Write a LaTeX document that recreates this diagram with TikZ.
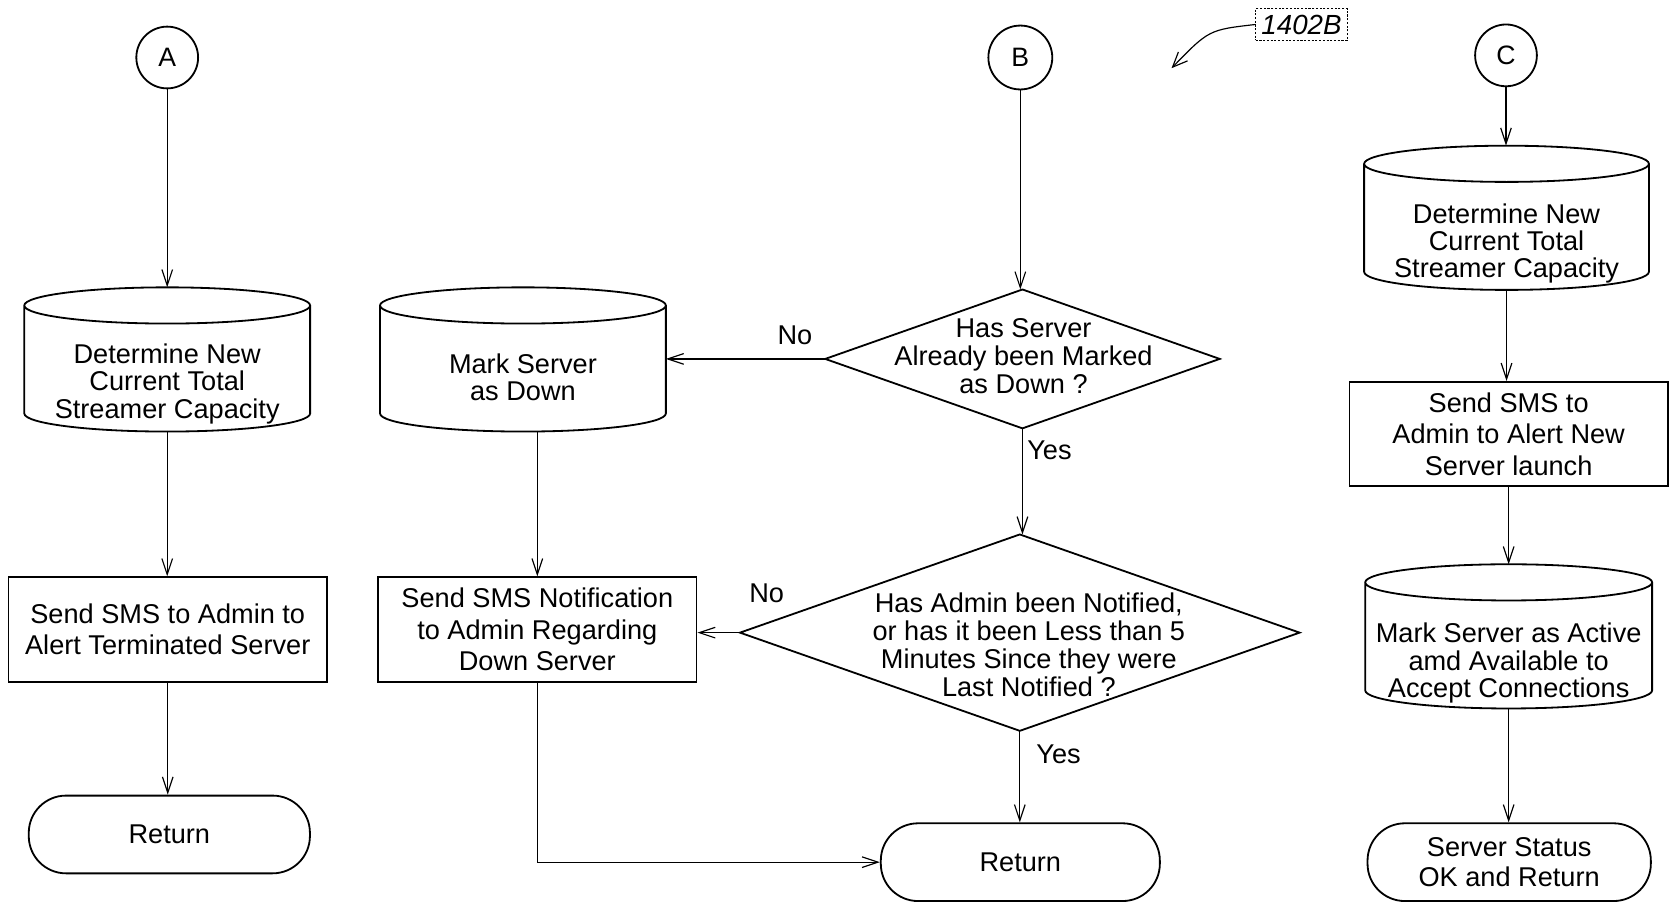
\documentclass[tikz,border=0pt]{standalone}
\usepackage{fontspec}
\setmainfont{Liberation Sans}
\usetikzlibrary{arrows.meta,calc,shapes.misc}
\newcommand\drawcyl[1]{%
  \draw[shp] let \p1=(#1.north west), \p2=(#1.south east), \p3=(#1.north), \n1={(\x2-\x1)/2} in
    (\x1,\y1+17pt) -- (\x1,\y2+17pt) arc[start angle=180,end angle=360,x radius=\n1,y radius=17pt] -- (\x2,\y1+17pt)
    (\x3,\y3+17pt) ellipse[x radius=\n1,y radius=17pt];
  \coordinate (#1-top) at ($(#1.north)+(0,34)$);
}
\newcommand\drawdiamond[1]{\draw[shp] (#1.north) -- (#1.east) -- (#1.south) -- (#1.west) -- cycle;}
\begin{document}
\begin{tikzpicture}[x=1pt,y=1pt,
  txt/.style={font=\fontsize{25.5}{26.5}\selectfont, align=center, inner sep=0pt},
  cyltxt/.style={font=\fontsize{25.5}{25.5}\selectfont, align=center, inner sep=0pt},
  conn/.style={line width=1.1pt, -{Straight Barb[length=15pt,width=10pt,line width=1.1pt]}},
  shp/.style={line width=1.7pt},
  circ/.style={shp, draw, circle, minimum size=58pt, inner sep=0pt, font=\fontsize{25}{26}\selectfont},
  procbox/.style={shp, draw, rectangle, minimum width=299pt, minimum height=98pt, inner sep=0pt, align=center, font=\fontsize{25.5}{29.5}\selectfont},
  term/.style={shp, draw, rectangle, rounded corners=35pt, minimum height=73pt, inner sep=0pt, align=center, font=\fontsize{25.5}{28}\selectfont},
  cylbody/.style={rectangle, minimum width=268pt, minimum height=101pt, inner sep=0pt},
  dshape/.style={rectangle, inner sep=0pt},
  lbl/.style={font=\fontsize{25.5}{26}\selectfont, inner sep=1pt},
]
\useasboundingbox (0,0) rectangle (1568,855);

% Column A
\node[circ] (A) at (157,801) {A};
\node[cylbody] (cA) at (157,500.5) {};
\drawcyl{cA}
\node[cyltxt] (cAt) at ($(cA)+(0,-6)$) {Determine New\\Current Total\\Streamer Capacity};
\node[procbox] (sA) at (157.5,264) {Send SMS to Admin to\\Alert Terminated Server};
\node[term, minimum width=264pt] (rA) at (159,71.5) {Return};
\draw[conn] (A) -- (cA-top);
\draw[conn] (cA.south) -- (cA.south |- sA.north);
\draw[conn] (sA.south) -- (sA.south |- rA.north);

% Column 2
\node[cylbody] (cM) at (491,500.5) {};
\drawcyl{cM}
\node[cyltxt] (cMt) at (cM) {Mark Server\\as Down};
\node[procbox] (sN) at (504.5,264) {Send SMS Notification\\to Admin Regarding\\Down Server};
\draw[conn] (cM.south -| sN.north) -- (sN.north);

% Column B
\node[circ, minimum size=60pt] (B) at (958,801) {B};
\node[dshape, minimum width=370pt, minimum height=130pt] (d1) at (960,518) {};
\drawdiamond{d1}
\node[txt] (d1t) at (961,520.5) {Has Server\\Already been Marked\\as Down ?};
\node[dshape, minimum width=525pt, minimum height=184pt] (d2) at (957.5,261) {};
\drawdiamond{d2}
\node[txt] (d2t) at (966,249.5) {Has Admin been Notified,\\or has it been Less than 5\\Minutes Since they were\\Last Notified ?};
\node[term, minimum width=262pt] (rB) at (958,45.5) {Return};
\node[lbl] (no2) at ($(d2.west)+(25,37)$) {No};

\draw[conn] (B) -- (B |- d1.north);
\draw[conn] (d1.west) -- node[lbl, pos=0.19, above=12pt] {No} (d1.west -| cM.east);
\draw[conn] (d1.south) -- node[lbl, pos=0.21, right=3pt] {Yes} (d1.south |- d2.north);
\draw[conn] (d2.west) -- (d2.west -| sN.east);
\draw[conn] (d2.south) -- node[lbl, pos=0.26, right=14pt] {Yes} (d2.south |- rB.north);
\draw[conn] (sN.south) |- (rB.west);

% Column C
\node[circ] (C) at (1414,803) {C};
\node[cylbody, minimum width=267pt] (cC) at (1414.5,633.5) {};
\drawcyl{cC}
\node[cyltxt] (cCt) at ($(cC)+(0,-7)$) {Determine New\\Current Total\\Streamer Capacity};
\node[procbox] (sC) at (1416.5,447.5) {Send SMS to\\Admin to Alert New\\Server launch};
\node[cylbody, minimum width=269pt] (cC2) at (1416.5,240.5) {};
\drawcyl{cC2}
\node[cyltxt] (cC2t) at ($(cC2)+(0,-8)$) {Mark Server as Active\\amd Available to\\Accept Connections};
\node[term, minimum width=266pt] (rC) at (1417,45.5) {Server Status\\OK and Return};
\draw[conn] (C) -- (C |- cC-top);
\draw[conn] (cC.south) -- (cC.south |- sC.north);
\draw[conn] (sC.south) -- (sC.south |- cC2-top);
\draw[conn] (cC2.south) -- (cC2.south |- rC.north);

% Reference label
\node[draw, line width=0.6pt, dash pattern=on 2pt off 1.5pt, minimum width=86pt, minimum height=30pt, inner sep=1pt, font=\fontsize{26}{26}\selectfont\itshape] (ref) at (1222,832) {1402B};
\coordinate (refend) at (1100,791);
\draw[line width=1.1pt, -{Straight Barb[length=14pt,width=12pt,line width=1.1pt]}] (ref.west) .. controls (1135,827) .. (refend);
\end{tikzpicture}
\end{document}
